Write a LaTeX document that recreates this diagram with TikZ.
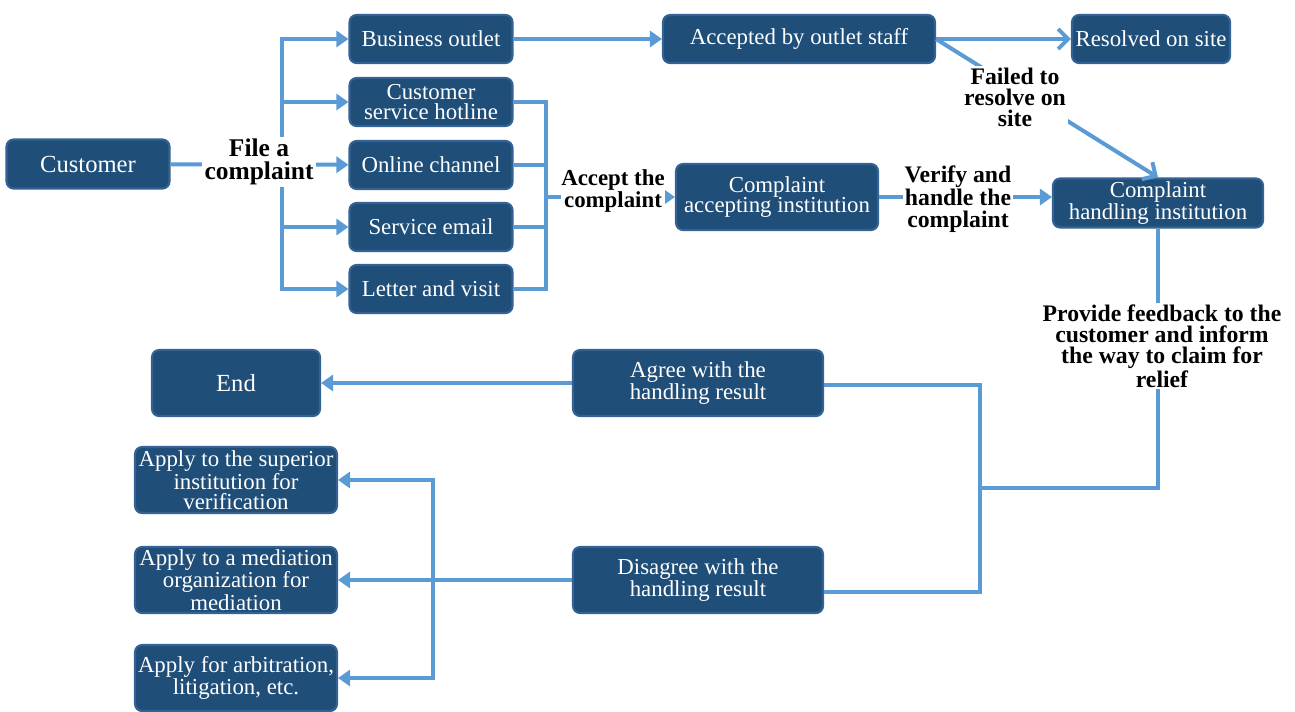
\documentclass[tikz,border=0pt]{standalone}
\usepackage{fontspec}
\setmainfont{Liberation Serif}
\usetikzlibrary{arrows.meta,positioning,calc}

\definecolor{boxfill}{RGB}{31,78,121}
\definecolor{boxedge}{RGB}{52,98,148}
\definecolor{flow}{RGB}{91,155,213}

\tikzset{
  stage/.style={draw=boxedge, line width=1.2pt, fill=boxfill, rounded corners=4pt,
    text=white, align=center, font=\fontsize{13}{11.5}\selectfont, inner sep=1pt},
  flowline/.style={draw=flow, line width=0.08cm},
  tip/.style={flowline, -{Triangle[length=0.24cm,width=0.32cm]}},
  barb/.style={flowline, -{Straight Barb[length=0.2cm,width=0.4cm]}},
  note/.style={font=\bfseries\fontsize{13.5}{12}\selectfont, align=center, fill=white, inner sep=1pt},
}

\begin{document}
\begin{tikzpicture}[x=0.02cm, y=-0.02cm]
        \useasboundingbox (0,0) rectangle (1295,711);

        % Channels
        \node[stage, minimum width=3.26cm, minimum height=0.98cm, font=\fontsize{14}{12}\selectfont] (customer) at (88,164) {Customer};
        \node[stage, minimum width=3.26cm, minimum height=0.96cm] (outlet) at (431,39) {Business outlet};
        \node[stage, minimum width=3.26cm, minimum height=0.96cm] (hotline) at (431,102) {Customer\\service hotline};
        \node[stage, minimum width=3.26cm, minimum height=0.96cm] (online) at (431,165) {Online channel};
        \node[stage, minimum width=3.26cm, minimum height=0.96cm] (email) at (431,227) {Service email};
        \node[stage, minimum width=3.26cm, minimum height=0.96cm] (letter) at (431,289) {Letter and visit};

        % Handling
        \node[stage, minimum width=5.44cm, minimum height=0.96cm] (staff) at (799,39) {Accepted by outlet staff};
        \node[stage, minimum width=3.16cm, minimum height=0.96cm] (resolved) at (1151,39) {Resolved on site};
        \node[stage, minimum width=4.04cm, minimum height=1.32cm] (accepting) at (777,197) {Complaint\\accepting institution};
        \node[stage, minimum width=4.2cm, minimum height=0.98cm] (handling) at (1158,203) {Complaint\\handling institution};

        % Results
        \node[stage, minimum width=3.36cm, minimum height=1.32cm, font=\fontsize{14}{12}\selectfont] (endbox) at (236,383) {End};
        \node[stage, minimum width=5cm, minimum height=1.32cm] (agree) at (698,383) {Agree with the\\handling result};
        \node[stage, minimum width=5cm, minimum height=1.32cm] (disagree) at (698,580) {Disagree with the\\handling result};
        \node[stage, minimum width=4.04cm, minimum height=1.32cm] (superior) at (236,480) {Apply to the superior\\institution for\\verification};
        \node[stage, minimum width=4.04cm, minimum height=1.32cm] (mediation) at (236,580) {Apply to a mediation\\organization for\\mediation};
        \node[stage, minimum width=4.04cm, minimum height=1.32cm] (arbitration) at (236,678) {Apply for arbitration,\\litigation, etc.};

        \coordinate (fork) at (282,164);
        \coordinate (merge) at (546,197);
        \coordinate (split) at (980,488);
        \coordinate (relief) at (433,580);

        % File a complaint
        \draw[tip] (customer) -- (online);
        \draw[tip] (fork |- letter) -- (fork |- outlet) -- (outlet.west);
        \draw[tip] (fork |- outlet) -- (fork |- letter) -- (letter.west);
        \foreach \n in {hotline,email}
            \draw[tip] (fork |- \n) -- (\n.west);
        \node[note, font=\bfseries\fontsize{14.5}{13}\selectfont, minimum width=2.3cm] (filelbl) at (259,162) {File a\\complaint};

        % Accept the complaint
        \draw[flowline] (hotline.east) -| (merge |- letter) -- (letter.east);
        \foreach \n in {online,email}
            \draw[flowline] (\n.east) -- (merge |- \n);
        \draw[tip] (merge) -- (accepting.west);
        \node[note, font=\bfseries\fontsize{13}{11.5}\selectfont, inner sep=0pt] (acceptlbl) at (613,191) {Accept the\\complaint};

        % Outlet path
        \draw[tip] (outlet) -- (staff);
        \draw[barb] (staff.east) -- (resolved.west);
        \draw[barb] (staff.east) -- (handling.north);
        \node[note] (failedlbl) at (1015,97) {Failed to\\resolve on\\site};

        % Verify and handle
        \draw[tip] (accepting.east) -- (accepting.east -| handling.west);
        \node[note] (verifylbl) at (958,199) {Verify and\\handle the\\complaint};

        % Feedback
        \draw[flowline] (handling.south) |- (split);
        \node[note] (feedbacklbl) at (1162,346) {Provide feedback to the\\customer and inform\\the way to claim for\\relief};
        \draw[flowline] ($(agree.east)+(0,2)$) -| (split) |- ($(disagree.east)+(0,12)$);

        % Outcomes
        \draw[tip] (agree) -- (endbox);
        \draw[tip] (disagree) -- (mediation);
        \draw[tip] (relief) |- (superior.east);
        \draw[tip] (relief) |- (arbitration.east);
    \end{tikzpicture}
\end{document}
